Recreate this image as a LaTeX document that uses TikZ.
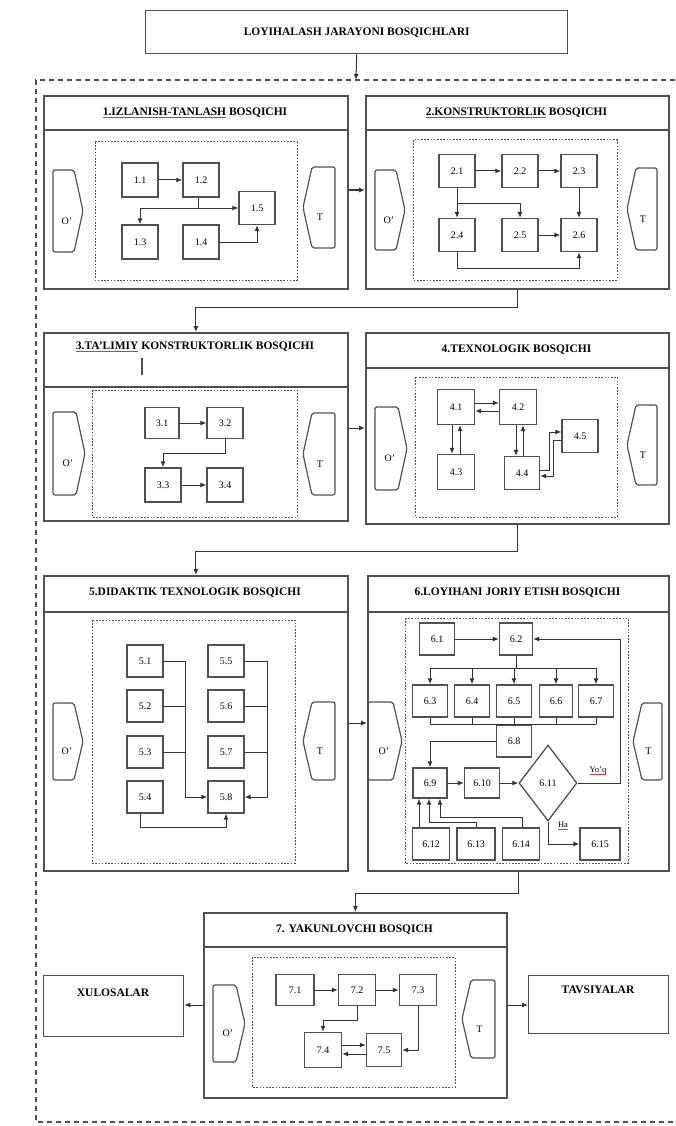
\documentclass[tikz,border=0pt]{standalone}
\usepackage{fontspec}
\setmainfont{Liberation Serif}
\usetikzlibrary{arrows.meta,shapes.geometric}
\definecolor{ln}{HTML}{333333}
\definecolor{bx}{HTML}{505050}
\definecolor{spellred}{HTML}{D03A3A}
\newcommand\spellu[1]{\setbox0\hbox{#1}\rlap{\color{spellred}\rule[-2.5pt]{\wd0}{0.6pt}}\box0\relax}
\newcommand\oshape[5]{%
  \draw[shp] (#1,#2) -- ({#3-9},#2) -- (#3,{(#2+#4)/2}) -- ({#3-9},#4) -- (#1,#4) -- cycle;
  \node[lbl] (#5) at ({(#1+#3)/2-1},{(#2+#4)/2+10}) {O'};}
\newcommand\tshape[5]{%
  \draw[shp] (#3,#2) -- ({#1+9},#2) -- (#1,{(#2+#4)/2}) -- ({#1+9},#4) -- (#3,#4) -- cycle;
  \node[lbl] (#5) at ({(#1+#3)/2+1},{(#2+#4)/2+10}) {T};}
\begin{document}
\begin{tikzpicture}[x=1pt,y=-1pt,
  ln/.style={draw=ln, line width=1pt},
  ar/.style={ln, -{Latex[length=6pt,width=5pt]}},
  stagebox/.style={draw=bx, line width=1.8pt},
  inner/.style={draw=bx, line width=1pt, dash pattern=on 1.6pt off 1.6pt},
  sb/.style={draw=bx, line width=1.3pt, minimum width=36pt, minimum height=32pt, inner sep=0pt, font=\fontsize{10}{10}\selectfont, fill=white},
  ttl/.style={font=\bfseries\fontsize{11.5}{12}\selectfont, inner sep=0pt},
  shp/.style={draw=bx, line width=1.2pt, rounded corners=2pt},
  lbl/.style={font=\fontsize{10}{10}\selectfont, inner sep=0pt},
  sml/.style={font=\fontsize{8.5}{9}\selectfont, inner sep=0pt},
]
\useasboundingbox (0,0) rectangle (675,1126);

% top title
\node[draw=bx, line width=1.4pt, minimum width=422pt, minimum height=43pt, anchor=north west, ttl] (top) at (145,10) {LOYIHALASH JARAYONI BOSQICHLARI};
\draw[draw=bx, line width=1.7pt, dash pattern=on 5pt off 4pt] (675,80) -- (36,80) -- (36,1122) -- (675,1122);
\coordinate (topin) at (356,80);
\draw[ar] (top.south) -- (topin);

% ---------- stage 1
\node[stagebox, anchor=north west, minimum width=304pt, minimum height=193pt] (s1) at (43,95) {};
\draw[stagebox] (s1.west |- 0,130) -- (s1.east |- 0,130);
\node[ttl] (t1) at (195,112.5) {\spellu{1.IZLANISH-TANLASH} BOSQICHI};
\draw[inner] (95,142) rectangle (297,280);
\oshape{53}{170}{83}{252}{o1}
\tshape{303}{167}{335}{248}{tt1}
\node[sb, minimum height=34pt] (b11) at (140,180) {1.1};
\node[sb, minimum height=34pt] (b12) at (201,180) {1.2};
\node[sb, minimum height=33pt] (b15) at (257,208) {1.5};
\node[sb, minimum height=34pt] (b13) at (140,242) {1.3};
\node[sb, minimum height=34pt] (b14) at (201,242) {1.4};
\draw[ar] (b11) -- (b12);
\coordinate (j1) at (198,208);
\draw[ar] ([xshift=-3pt]b12.south) |- (b15.west);
\draw[ar] (j1) -| (b13.north);
\draw[ar] (b14.east) -| (b15.south);

% ---------- stage 2
\node[stagebox, anchor=north west, minimum width=303pt, minimum height=193pt] (s2) at (365,95) {};
\draw[stagebox] (s2.west |- 0,130) -- (s2.east |- 0,130);
\node[ttl] (t2) at (516.5,112.5) {\spellu{2.KONSTRUKTORLIK} BOSQICHI};
\draw[inner] (413,140) rectangle (617,280);
\oshape{375}{170}{405}{250}{o2}
\tshape{627}{168}{657}{250}{tt2}
\node[sb, minimum height=33pt] (b21) at (457,171) {2.1};
\node[sb, minimum height=33pt] (b22) at (520,171) {2.2};
\node[sb, minimum height=33pt] (b23) at (579,171) {2.3};
\node[sb, minimum height=33pt] (b24) at (457,235) {2.4};
\node[sb, minimum height=33pt] (b25) at (520,235) {2.5};
\node[sb, minimum height=33pt] (b26) at (579,235) {2.6};
\draw[ar] (b21) -- (b22);
\draw[ar] (b22) -- (b23);
\draw[ar] (b21.south) -- (b24.north);
\coordinate (j2) at (457,203);
\draw[ar] (j2) -| (b25.north);
\draw[ar] (b23.south) -- (b26.north);
\draw[ar] (b25) -- (b26);
\draw[ar] (b24.south) -- ++(0,16) -| (b26.south);
\draw[ar] (s1.east |- 0,190) -- (s2.west |- 0,190);

% ---------- stage 3
\node[stagebox, anchor=north west, minimum width=304pt, minimum height=188pt] (s3) at (43,332) {};
\draw[stagebox] (s3.west |- 0,387) -- (s3.east |- 0,387);
\node[ttl] (t3) at (195,347) {\spellu{3.TA'LIMIY} KONSTRUKTORLIK  BOSQICHI};
\draw[draw=bx, line width=1.3pt] (142,358) -- (142,375);
\draw[inner] (92,390) rectangle (297,517);
\oshape{53}{412}{85}{495}{o3}
\tshape{303}{413}{335}{495}{tt3}
\node[sb, minimum width=34pt, minimum height=31pt] (b31) at (162,423) {3.1};
\node[sb, minimum height=31pt] (b32) at (225,423) {3.2};
\node[sb, minimum height=34pt] (b33) at (163,485) {3.3};
\node[sb, minimum height=34pt] (b34) at (225,485) {3.4};
\draw[ar] (b31) -- (b32);
\draw[ar] (b32.south) -- ++(0,14) -| (b33.north);
\draw[ar] (b33) -- (b34);
\draw[ar] (s2.south) -- ++(0,18) -| (s3.north);

% ---------- stage 4
\node[stagebox, anchor=north west, minimum width=303pt, minimum height=191pt] (s4) at (365,332) {};
\draw[stagebox] (s4.west |- 0,368) -- (s4.east |- 0,368);
\node[ttl] (t4) at (516.5,350) {4.TEXNOLOGIK  BOSQICHI};
\draw[inner] (415,377) rectangle (617,517);
\oshape{375}{407}{407}{490}{o4}
\tshape{627}{405}{657}{485}{tt4}
\node[sb, minimum width=37pt, minimum height=35pt] (b41) at (456,407) {4.1};
\node[sb, minimum width=37pt, minimum height=35pt] (b42) at (518,407) {4.2};
\node[sb, minimum width=37pt, minimum height=35pt] (b43) at (456,472) {4.3};
\node[sb, minimum width=35pt, minimum height=33pt] (b44) at (522,473) {4.4};
\node[sb, minimum height=33pt] (b45) at (580,436) {4.5};
\draw[ar] ([yshift=4pt]b41.east) -- ([yshift=4pt]b42.west);
\draw[ar] ([yshift=-4pt]b42.west) -- ([yshift=-4pt]b41.east);
\draw[ar] ([xshift=-4pt]b41.south) -- ([xshift=-4pt]b43.north);
\draw[ar] ([xshift=4pt]b43.north) -- ([xshift=4pt]b41.south);
\draw[ar] ([xshift=-2pt]b42.south) -- ([xshift=-6pt]b44.north);
\draw[ar] ([xshift=1pt]b44.north) -- ([xshift=5pt]b42.south);
\draw[ar] ([yshift=3pt]b44.east) -| (549,432) -- ([yshift=4pt]b45.west);
\draw[ar] ([yshift=-4pt]b45.west) -| (553,476) -- ([yshift=-3pt]b44.east);
\draw[ar] (s3.east |- 0,428) -- (s4.west |- 0,428);

% ---------- stage 5
\node[stagebox, anchor=north west, minimum width=304pt, minimum height=295pt] (s5) at (43,575) {};
\draw[stagebox] (s5.west |- 0,612) -- (s5.east |- 0,612);
\node[ttl] (t5) at (195,593) {5.DIDAKTIK TEXNOLOGIK  BOSQICHI};
\draw[inner] (92,620) rectangle (295,863);
\oshape{53}{703}{83}{780}{o5}
\tshape{303}{702}{335}{780}{tt5}
\node[sb] (b51) at (145,661) {5.1};
\node[sb] (b52) at (145,706) {5.2};
\node[sb] (b53) at (145,752) {5.3};
\node[sb] (b54) at (145,797) {5.4};
\node[sb] (b55) at (226,661) {5.5};
\node[sb] (b56) at (226,706) {5.6};
\node[sb] (b57) at (226,752) {5.7};
\node[sb] (b58) at (226,797) {5.8};
\coordinate (bus1) at (185,661);
\coordinate (bus2) at (267,661);
\draw[ln] (b51.east) -- (bus1);
\draw[ln] (b52.east) -- (b52.east -| bus1);
\draw[ln] (b53.east) -- (b53.east -| bus1);
\draw[ar] (bus1) |- (b58.west);
\draw[ln] (b55.east) -- (bus2);
\draw[ln] (b56.east) -- (b56.east -| bus2);
\draw[ln] (b57.east) -- (b57.east -| bus2);
\draw[ar] (bus2) |- (b58.east);
\draw[ar] ([xshift=-5pt]b54.south) -- ++(0,14) -| (b58.south);
\draw[ar] (s4.south) -- ++(0,27) -| (s5.north);

% ---------- stage 6
\node[stagebox, anchor=north west, minimum width=301pt, minimum height=295pt] (s6) at (367,575) {};
\draw[stagebox] (s6.west |- 0,612) -- (s6.east |- 0,612);
\node[ttl] (t6) at (517.5,593) {6.LOYIHANI JORIY ETISH  BOSQICHI};
\draw[inner] (405,618) rectangle (628,863);
\oshape{368}{702}{402}{780}{o6}
\tshape{633}{703}{662}{780}{tt6}
\node[sb, minimum width=35pt] (b61) at (437,639) {6.1};
\node[sb, minimum width=33pt] (b62) at (516,639) {6.2};
\node[sb, minimum width=35pt] (b63) at (430,701) {6.3};
\node[sb, minimum width=35pt] (b64) at (472,701) {6.4};
\node[sb, minimum width=35pt] (b65) at (514,701) {6.5};
\node[sb, minimum width=33pt] (b66) at (556,701) {6.6};
\node[sb, minimum width=35pt] (b67) at (596,701) {6.7};
\node[sb, minimum width=35pt] (b68) at (514,741) {6.8};
\node[sb, minimum width=34pt, minimum height=30pt] (b69) at (430,783) {6.9};
\node[sb, minimum width=35pt, minimum height=30pt] (b610) at (482,783) {6.10};
\node[draw=bx, line width=1.3pt, diamond, minimum width=58pt, minimum height=76pt, inner sep=0pt, font=\fontsize{10}{10}\selectfont] (d611) at (548,783) {6.11};
\node[sb, minimum width=37pt] (b612) at (431,844) {6.12};
\node[sb, minimum width=38pt] (b613) at (476,844) {6.13};
\node[sb, minimum width=37pt] (b614) at (521,844) {6.14};
\node[sb, minimum width=40pt] (b615) at (600,844) {6.15};
\draw[ar] (b61) -- (b62);
\draw[ar] (d611.east) -- ++(43,0) |- (b62.east);
\draw[ln] (b62.south) -- ++(0,13);
\draw[ln] (b63.north |- 0,668) -- (b67.north |- 0,668);
\foreach \b in {b63,b64,b65,b66,b67} {\draw[ar] (\b.north |- 0,668) -- (\b.north);}
\draw[ln] (b63.south |- 0,724) -- (b67.south |- 0,724);
\foreach \b in {b63,b64,b65,b66,b67} {\draw[ln] (\b.south) -- (\b.south |- 0,724);}
\draw[ar] (b68.west) -| (b69.north);
\draw[ar] (b69) -- (b610);
\draw[ar] (b610) -- (d611);
\draw[ar] ([xshift=-12pt]b612.north) -- ([xshift=-11pt]b69.south);
\draw[ar] (b613.north) -- ++(0,-5) -| ([xshift=-1pt]b69.south);
\draw[ar] ([xshift=1pt]b614.north) -- ++(0,-10) -| ([xshift=10pt]b69.south);
\draw[ar] (d611.south) |- (b615.west);
\node[sml] (yq) at (598,771) {\spellu{Yo'q}};
\node[sml] (ha) at (563,826) {\spellu{Ha}};
\draw[ar] (s5.east |- 0,723) -- (s6.west |- 0,723);

% ---------- stage 7
\node[stagebox, anchor=north west, minimum width=303pt, minimum height=185pt] (s7) at (203,912) {};
\draw[stagebox] (s7.west |- 0,947) -- (s7.east |- 0,947);
\node[ttl] (t7) at (354.5,929.5) {7. YAKUNLOVCHI BOSQICH};
\draw[inner] (252,957) rectangle (455,1087);
\oshape{213}{985}{245}{1062}{o7}
\tshape{462}{980}{495}{1058}{tt7}
\node[sb, minimum width=38pt, minimum height=31pt] (b71) at (295,990) {7.1};
\node[sb, minimum width=37pt, minimum height=31pt] (b72) at (357,990) {7.2};
\node[sb, minimum width=37pt, minimum height=31pt] (b73) at (418,990) {7.3};
\node[sb, minimum width=37pt, minimum height=35pt] (b74) at (323,1050) {7.4};
\node[sb, minimum width=35pt, minimum height=33pt] (b75) at (384,1050) {7.5};
\draw[ar] (b71) -- (b72);
\draw[ar] (b72) -- (b73);
\draw[ar] (b72.south) -- ++(0,14) -| (b74.north);
\draw[ar] (b73.south) |- (b75.east);
\draw[ar] ([yshift=5pt]b74.east) -- ([yshift=5pt]b75.west);
\draw[ar] ([yshift=-4pt]b75.west) -- ([yshift=-4pt]b74.east);
\draw[ar] (s6.south) -- ++(0,22) -| (s7.north);

\node[draw=bx, line width=1.4pt, minimum width=140pt, minimum height=61pt, anchor=north west] (xul) at (43,975) {};
\node[ttl] (xult) at (113,993) {XULOSALAR};
\node[draw=bx, line width=1.4pt, minimum width=140pt, minimum height=58pt, anchor=north west] (tav) at (528,975) {};
\node[ttl] (tavt) at (598,990) {TAVSIYALAR};
\draw[ar] (s7.west |- 0,1005) -- (xul.east |- 0,1005);
\draw[ar] (s7.east |- 0,1005) -- (tav.west |- 0,1005);
\end{tikzpicture}
\end{document}
